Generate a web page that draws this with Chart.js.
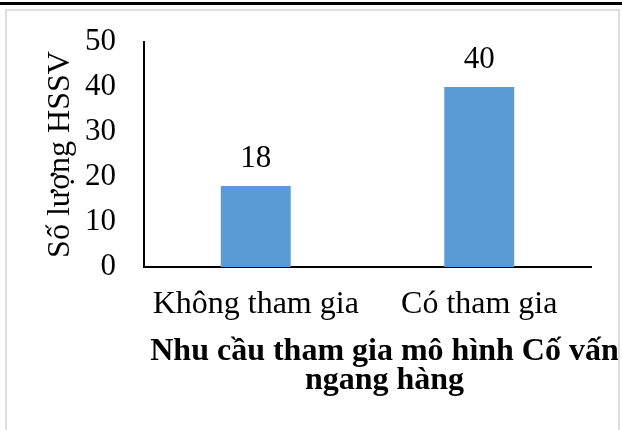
<!DOCTYPE html>
<html>
<head>
<meta charset="utf-8">
<script src="https://cdn.jsdelivr.net/npm/chart.js@4"></script>
<style>
  html, body { margin: 0; padding: 0; background: #fff; overflow: hidden; }
  #topRule { position: absolute; left: 0; top: 2px; width: 622px; height: 3px; background: #000; }
  #frame { position: absolute; left: 5px; top: 9px; width: 611px; height: 430px; border: 2px solid #dedede; }
  #chart { position: absolute; left: 0; top: 0; }
</style>
</head>
<body>
<div id="topRule"></div>
<div id="frame"><canvas id="chart" width="611" height="419"></canvas></div>
<script>
// data
const categories = ['Không tham gia', 'Có tham gia'];
const counts = [18, 40];
const yTicks = [0, 10, 20, 30, 40, 50];
const yTitle = 'Số lượng HSSV';
const chartTitle = ['Nhu cầu tham gia mô hình Cố vấn', 'ngang hàng'];

const serif = "'Liberation Serif', 'Times New Roman', serif";

// numbers above the bars
const valueLabels = {
  id: 'valueLabels',
  afterDatasetsDraw(chart) {
    const ctx = chart.ctx;
    const meta = chart.getDatasetMeta(0);
    ctx.save();
    ctx.font = '31px ' + serif;
    ctx.fillStyle = '#000';
    ctx.textAlign = 'center';
    ctx.textBaseline = 'alphabetic';
    meta.data.forEach((bar, i) => {
      ctx.fillText(String(counts[i]), bar.x, bar.y - 19);
    });
    ctx.restore();
  }
};

// two-line bold title under the axis, a bit right of the plot centre like the original
const bottomTitle = {
  id: 'bottomTitle',
  afterDraw(chart) {
    const ctx = chart.ctx;
    const area = chart.chartArea;
    const cx = (area.left + area.right) / 2 + 17;
    ctx.save();
    ctx.font = 'bold 32px ' + serif;
    ctx.fillStyle = '#000';
    ctx.textAlign = 'center';
    ctx.textBaseline = 'alphabetic';
    chartTitle.forEach((line, i) => {
      ctx.fillText(line, cx, area.bottom + 93 + i * 28.7);
    });
    ctx.restore();
  }
};

new Chart(document.getElementById('chart'), {
  type: 'bar',
  data: {
    labels: categories,
    datasets: [{
      data: counts,
      backgroundColor: '#5b9bd5',
      borderWidth: 0,
      barPercentage: 0.313,
      categoryPercentage: 1
    }]
  },
  options: {
    responsive: false,
    animation: false,
    layout: { padding: { top: 31, right: 27, bottom: 108, left: 0 } },
    plugins: {
      legend: { display: false },
      tooltip: { enabled: false },
      title: { display: false }
    },
    scales: {
      x: {
        afterFit(scale) {
          scale.height = 55;
          scale.paddingLeft = 0;
          scale.paddingRight = 0;
        },
        grid: { display: false, drawTicks: false },
        border: { display: true, color: '#000', width: 2 },
        ticks: { color: '#000', padding: 18, autoSkip: false, maxRotation: 0, font: { family: serif, size: 32 } }
      },
      y: {
        min: 0,
        max: 50,
        afterBuildTicks(scale) {
          scale.ticks = yTicks.map(v => ({ value: v }));
        },
        afterFit(scale) {
          scale.width = 137;
          scale.paddingTop = 0;
          scale.paddingBottom = 0;
        },
        grid: { display: false, drawTicks: false },
        border: { display: true, color: '#000', width: 2 },
        ticks: { color: '#000', padding: 28, autoSkip: false, font: { family: serif, size: 31 } },
        title: {
          display: true,
          text: yTitle,
          color: '#000',
          padding: { top: 34, bottom: 0 },
          font: { family: serif, size: 32 }
        }
      }
    }
  },
  plugins: [valueLabels, bottomTitle]
});
</script>
</body>
</html>
